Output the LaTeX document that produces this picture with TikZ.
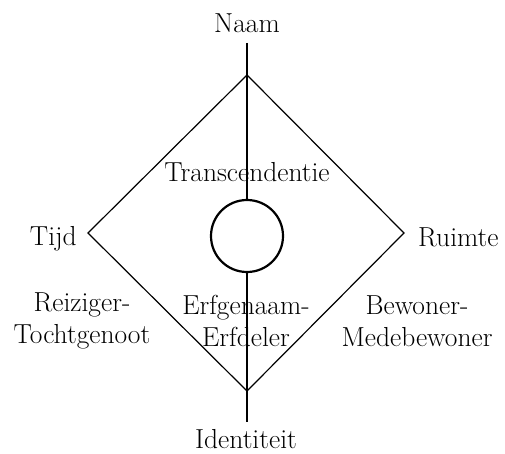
\documentclass[tikz,border=0pt]{standalone}
\begin{document}
\begin{tikzpicture}[x=1pt,y=-1pt,
  lbl/.style={inner sep=0pt,font=\fontsize{27.5}{32}\selectfont},
  thin line/.style={line width=1.2pt},
  ring/.style={draw,line width=2.2pt,fill=white}]
\useasboundingbox (0,0) rectangle (505,454);
\coordinate (T) at (247,75);
\coordinate (L) at (88,233);
\coordinate (R) at (404,233);
\coordinate (B) at (247,391);
\coordinate (vt) at (247,43);
\coordinate (vb) at (247,422);
\draw[thin line] (T) -- (R) -- (B) -- (L) -- cycle;
\draw[thin line] (vt) -- (vb);
\node[ring,circle,minimum size=72pt,inner sep=0pt] (c) at (247,236) {};
\node[lbl,anchor=base] (naam) at (247,33) {Naam};
\node[lbl,anchor=base] (trans) at (247,182) {Transcendentie};
\node[lbl,anchor=base east] (tijd) at (77,245) {Tijd};
\node[lbl,anchor=base west] (ruimte) at (418,246) {Ruimte};
\node[lbl,align=center] (reis) at (82,321) {Reiziger-\\Tochtgenoot};
\node[lbl,align=center] (erf) at (246,321) {Erfgenaam-\\Erfdeler};
\node[lbl,align=center] (bew) at (417,321) {Bewoner-\\Medebewoner};
\node[lbl,anchor=base] (id) at (246,448) {Identiteit};
\end{tikzpicture}
\end{document}
